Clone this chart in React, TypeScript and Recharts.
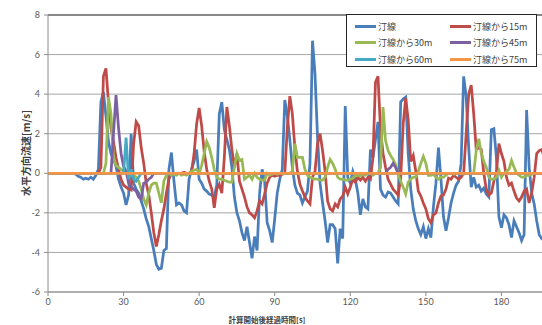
import { LineChart, Line, XAxis, YAxis, CartesianGrid, Legend, ReferenceLine } from "recharts";

const NAMES = ["汀線", "汀線から15m", "汀線から30m", "汀線から45m", "汀線から60m", "汀線から75m"];
const COLORS = ["#4a7ebb", "#be4b48", "#98b954", "#7d60a0", "#46aac5", "#f69545"];
const X_TICKS = [0, 30, 60, 90, 120, 150, 180];
const Y_TICKS = [-6, -4, -2, 0, 2, 4, 6, 8];

// one value per second, t = 0 .. 197
const BLUE = [
  0, 0, 0, 0, 0, 0, 0, 0, 0, 0,
  0, -0.05, -0.15, -0.2, -0.3, -0.25, -0.3, -0.2, -0.3, -0.1,
  0.2, 3.6, 4.1, 2.9, 1.6, 1.0, 0.7, 0.35, -0.3, -0.7,
  -1.0, -1.6, -1.1, 2.0, -0.5, -0.8, -1.0, -1.4, -1.8, -2.3,
  -2.7, -3.3, -3.9, -4.6, -4.85, -4.8, -3.9, -3.8, 0.2, 1.05,
  -0.4, -1.6, -1.5, -1.6, -1.9, -2.0, -0.3, 0.2, 0.6, 1.2,
  -0.3, -0.5, -0.8, -0.9, -1.05, -1.1, -1.2, -0.6, 3.0, 3.6,
  2.2, 1.7, 1.2, 0.3, -1.2, -2.0, -2.4, -3.0, -3.4, -2.7,
  -3.5, -4.3, -3.2, -3.9, -1.0, 0.2, -0.4, -2.5, -2.9, -3.5,
  -2.3, -1.0, -0.3, 0.2, 3.7, 2.9, 1.7, 0.3, -0.6, -1.0,
  -1.1, -1.5, -1.2, -0.9, 0.5, 6.7, 5.0, 1.8, -0.5, -1.5,
  -2.4, -3.5, -2.6, -2.6, -2.8, -4.55, -2.8, -3.3, 3.4, -0.2,
  -0.5, 0.1, -0.3, -1.0, -2.1, -1.3, -1.7, -1.8, 1.2, 0.8,
  1.7, 2.6, -0.8, -1.1, -1.2, -0.95, -1.0, -1.2, -1.4, -1.55,
  3.6, 3.75, 3.85, 1.0, -0.8, -1.8, -2.4, -2.8, -3.1, -2.7,
  -3.3, -2.8, -3.25, -1.7, -0.5, 1.3, -0.3, -2.2, -2.9, -2.25,
  -1.5, -1.0, -0.6, -0.4, 0.5, 4.9, 3.9, 1.3, -0.7, -0.2,
  -0.7, -0.6, -0.9, -0.75, -1.05, -1.2, 2.2, 2.25, 0.8, -2.2,
  -2.75, -2.1, -2.25, -2.6, -3.25, -2.4, -2.7, -3.0, -3.4, -3.1,
  3.2, 0.3, -1.0, -1.55, -2.4, -3.1, -3.3, -3.2,
];

const RED = [
  0, 0, 0, 0, 0, 0, 0, 0, 0, 0,
  0, 0, 0, 0, 0, 0, 0, 0, 0, 0,
  0, 0.3, 4.9, 5.3, 3.6, 2.3, 1.6, 0.8, 0.2, -0.3,
  -0.6, -0.7, -0.8, -0.85, 1.5, 2.6, 2.4, 1.3, 0.5, -0.5,
  -1.1, -2.0, -3.0, -3.7, -3.1, -2.4, -1.8, -1.0, -0.3, 0,
  0, -0.05, 0, 0, 0.05, 0, 0, 0.1, 1.0, 2.5,
  3.3, 2.4, 1.1, 0.2, -0.4, -0.8, -1.75, -0.8, -0.55, -1.0,
  0.8, 3.35, 2.4, 1.2, 0.3, 1.0, -0.4, -0.8, -1.2, -1.7,
  -2.0, -2.1, -2.25, -1.9, -1.4, -1.55, -1.05, -0.5, -0.2, -0.1,
  -0.15, -0.1, -0.1, -0.05, 0, 2.3, 3.9, 3.0, 1.3, 0.1,
  -0.55, -0.9, -1.2, -1.4, -1.55, -0.2, 0.1, 1.5, 2.0, 1.15,
  0.1, -1.4, -1.8, -1.9, -1.55, -1.7, -1.3, -1.15, -0.7, -1.05,
  -0.7, -0.3, -0.45, -0.2, -0.35, -0.2, -0.4, -0.2, -0.3, 0.8,
  4.6, 4.9, 2.2, 1.0, 0.3, -0.3, -0.55, -0.8, -0.95, -1.1,
  -0.3, 2.5, 3.8, 2.7, 0.6, 0.9, 0.1, -0.9, -1.15, -1.5,
  -1.8, -2.3, -2.5, -2.1, -2.0, -1.5, -1.15, -1.1, -0.8, -0.25,
  -0.3, -0.1, -0.2, -0.3, -0.2, 0, 2.0, 4.0, 4.45, 3.0,
  1.2, 1.3, 1.2, 0, -0.8, -1.1, -1.0, -0.4, 0, 1.5,
  1.0, 0.6, -0.2, -0.6, -0.5, -0.9, -1.25, -1.4, -1.2, -0.9,
  -0.8, -1.5, -1.0, -0.2, 1.0, 1.15, 1.2, 0.8,
];

const GREEN = [
  0, 0, 0, 0, 0, 0, 0, 0, 0, 0,
  0, 0, 0, 0, 0, 0, 0, 0, 0, 0,
  0, 0, 0, 0.5, 3.85, 3.0, 0.8, 0.4, 0.3, 0.2,
  0.1, 0, 0, -0.1, -0.1, -0.2, -0.4, -0.8, -1.3, -1.6,
  -1.0, -0.6, -0.5, -0.5, -1.0, -1.5, -0.4, -0.1, 0, -0.1,
  -0.05, -0.1, 0, -0.1, -0.05, -0.1, 0, 0.1, 0.15, 0.2,
  0, 0.4, 1.0, 1.6, 1.3, 0.8, 0.2, -0.2, -0.3, -0.3,
  -0.35, -0.4, -0.45, -0.45, 0.3, 1.0, 0.65, 0.7, -0.3, -0.2,
  -0.1, -0.3, 0, -0.2, -0.3, -0.35, -0.35, 0, -0.1, -0.05,
  0, -0.05, 0, 0, 0, 0, 0, 0.1, 1.5, 0.8,
  0.8, 0.8, 0.2, -0.1, -0.2, -0.25, -0.3, -0.3, -0.35, -0.35,
  -0.2, 0.3, 0.7, 0.5, 0.2, -0.2, -0.3, -0.3, -0.35, -0.35,
  -0.3, -0.25, -0.1, -0.1, -0.15, -0.05, -0.1, 0, 0, -0.1,
  0, 0, 0.3, 3.35, 1.65, 1.15, 0.9, 0.7, 0.45, -0.05,
  -0.4, -0.7, -1.05, -0.45, -0.3, -0.2, -0.2, 0.1, 0.5, 0.85,
  0.5, -0.1, -0.1, -0.05, -0.2, -0.3, -0.2, -0.2, -0.1, 0,
  0, -0.05, 0, 0, 0, -0.05, 0, 0, 0, 0,
  1.15, 1.75, 1.0, 0.6, 0.3, -0.2, -0.3, -0.3, -0.2, 0.15,
  -0.2, 0, 0.1, 0.2, 0.65, 0.3, 0, -0.1, -0.2, -0.2,
  -0.1, -0.1, -0.05, 0, 0, 0, 0, 0,
];

const PURPLE = [
  0, 0, 0, 0, 0, 0, 0, 0, 0, 0,
  0, 0, 0, 0, 0, 0, 0, 0, 0, 0,
  0, 0, 0, 0, 0, 0, 2.0, 3.95, 2.3, 1.0,
  0.35, 0.1, -0.5, -0.7, -0.8, -0.9, -1.2, -1.3, -0.5, -0.45,
  -0.3, -0.2, 0, 0, 0, 0, 0, 0, 0, 0,
  0, 0, 0, 0, 0, 0, 0, 0, 0, 0,
  0, 0, 0, 0, 0, 0, 0, 0, 0, 0,
  0, 0, 0, 0, 0, 0, 0, 0, 0, 0,
  0, 0, 0, 0, 0, 0, 0, 0, 0, 0,
  0, 0, 0, 0, 0, 0, 0, 0, 0, 0,
  0, 0, 0, 0, 0, 0, 0, 0, 0, 0,
  0, 0, 0, 0, 0, 0, 0, 0, 0, 0,
  0, 0, 0, 0, 0, 0, 0, 0, 0, 0,
  0, 0, 0, 0, 0, 0.2, 0.3, 0.5, 0.3, 0,
  0, 0, 0, 0, 0, 0, 0, 0, 0, 0,
  0, 0, 0, 0, 0, 0, 0, 0, 0, 0,
  0, 0, 0, 0, 0, 0, 0, 0, 0, 0,
  0, 0, 0, 0, 0, 0, 0, 0, 0, 0,
  0, 0, 0, 0, 0, 0, 0, 0, 0, 0,
  0, 0, 0, 0, 0, 0, 0, 0,
];

const TEAL = [
  0, 0, 0, 0, 0, 0, 0, 0, 0, 0,
  0, 0, 0, 0, 0, 0, 0, 0, 0, 0,
  0, 0, 0, 0, 0, 0, 0, 0, 0, 0,
  0, 1.8, -0.3, 0.2, -0.3, -0.4, -0.2, 0, 0, 0,
  0, 0, 0, 0, 0, 0, 0, 0, 0, 0,
  0, 0, 0, 0, 0, 0, 0, 0, 0, 0,
  0, 0, 0, 0, 0, 0, 0, 0, 0, 0,
  0, 0, 0, 0, 0, 0, 0, 0, 0, 0,
  0, 0, 0, 0, 0, 0, 0, 0, 0, 0,
  0, 0, 0, 0, 0, 0, 0, 0, 0, 0,
  0, 0, 0, 0, 0, 0, 0, 0, 0, 0,
  0, 0, 0, 0, 0, 0, 0, 0, 0, 0,
  0, 0, 0, 0, 0, 0, 0, 0, 0, 0,
  0, 0, 0, 0, 0, 0, 0, 0, 0, 0,
  0, 0, 0, 0, 0, 0, 0, 0, 0, 0,
  0, 0, 0, 0, 0, 0, 0, 0, 0, 0,
  0, 0, 0, 0, 0, 0, 0, 0, 0, 0,
  0, 0, 0, 0, 0, 0, 0, 0, 0, 0,
  0, 0, 0, 0, 0, 0, 0, 0, 0, 0,
  0, 0, 0, 0, 0, 0, 0, 0,
];

const ORANGE = [
  0, 0, 0, 0, 0, 0, 0, 0, 0, 0,
  0, 0, 0, 0, 0, 0, 0, 0, 0, 0,
  0, 0, 0, 0, 0, 0, 0, 0, 0, 0,
  0, 0, 0, 0, 0, 0, 0, 0, 0, 0,
  0, 0, 0, 0, 0, 0, 0, 0, 0, 0,
  0, 0, 0, 0, 0, 0, 0, 0, 0, 0,
  0, 0, 0, 0, 0, 0, 0, 0, 0, 0,
  0, 0, 0, 0, 0, 0, 0, 0, 0, 0,
  0, 0, 0, 0, 0, 0, 0, 0, 0, 0,
  0, 0, 0, 0, 0, 0, 0, 0, 0, 0,
  0, 0, 0, 0, 0, 0, 0, 0, 0, 0,
  0, 0, 0, 0, 0, 0, 0, 0, 0, 0,
  0, 0, 0, 0, 0, 0, 0, 0, 0, 0,
  0, 0, 0, 0, 0, 0, 0, 0, 0, 0,
  0, 0, 0, 0, 0, 0, 0, 0, 0, 0,
  0, 0, 0, 0, 0, 0, 0, 0, 0, 0,
  0, 0, 0, 0, 0, 0, 0, 0, 0, 0,
  0, 0, 0, 0, 0, 0, 0, 0, 0, 0,
  0, 0, 0, 0, 0, 0, 0, 0, 0, 0,
  0, 0, 0, 0, 0, 0, 0, 0,
];

const SERIES = [BLUE, RED, GREEN, PURPLE, TEAL, ORANGE];

const rows = BLUE.map((_, i) => {
  const row: Record<string, number> = { t: i };
  SERIES.forEach((s, k) => {
    row["s" + k] = s[i];
  });
  return row;
});

const CJK = "'Noto Sans CJK JP', 'Noto Sans', sans-serif";
const tickStyle = { fontSize: 9, fill: "#595959", fontFamily: "Lato, 'Noto Sans', sans-serif" };

function LegendBox() {
  return (
    <div
      style={{
        position: "relative",
        width: 191,
        height: 53,
        boxSizing: "border-box",
        border: "1px solid #262626",
        background: "#fff",
        fontFamily: CJK,
        fontSize: 9,
        color: "#404040",
      }}
    >
      {NAMES.map((name, i) => (
        <div
          key={name}
          style={{
            position: "absolute",
            left: i % 2 ? 103 : 8,
            top: 4 + Math.floor(i / 2) * 16.5,
            height: 14,
            display: "flex",
            alignItems: "center",
            whiteSpace: "nowrap",
          }}
        >
          <span style={{ display: "inline-block", width: 21, height: 3, background: COLORS[i], marginRight: 2 }} />
          {name}
        </div>
      ))}
    </div>
  );
}

export default function App() {
  return (
    <div style={{ position: "absolute", left: 0, top: 0, width: 542, height: 325, overflow: "hidden", background: "#fff" }}>
      <LineChart width={577} height={325} data={rows} margin={{ top: 15, right: 0, bottom: 0, left: 0 }}>
        <CartesianGrid vertical={false} stroke="#a6a6a6" />
        <XAxis
          dataKey="t"
          type="number"
          domain={[0, 210]}
          ticks={X_TICKS}
          interval={0}
          height={33}
          tickSize={4}
          tickMargin={3}
          stroke="#8c8c8c"
          tick={tickStyle}
          label={{
            content: () => (
              <text x={267} y={323} textAnchor="middle" fontSize={7.5} fontWeight="bold" fill="#404040" fontFamily={CJK}>
                計算開始後経過時間[s]
              </text>
            ),
          }}
        />
        <YAxis
          type="number"
          domain={[-6, 8]}
          ticks={Y_TICKS}
          width={48}
          tickSize={4}
          tickMargin={4}
          stroke="#8c8c8c"
          tick={tickStyle}
          label={{
            content: () => (
              <text
                x={25}
                y={153}
                transform="rotate(-90 25 153)"
                textAnchor="middle"
                dominantBaseline="central"
                fontSize={10}
                fontWeight="bold"
                fill="#404040"
                fontFamily={CJK}
              >
                水平方向流速[m/s]
              </text>
            ),
          }}
        />
        <ReferenceLine y={8} stroke="#404040" strokeWidth={1.2} />
        {NAMES.map((name, k) => (
          <Line
            key={name}
            type="linear"
            dataKey={"s" + k}
            name={name}
            stroke={COLORS[k]}
            strokeWidth={2.75}
            dot={false}
            isAnimationActive={false}
          />
        ))}
        <Legend
          layout="vertical"
          align="center"
          verticalAlign="middle"
          content={() => <LegendBox />}
          wrapperStyle={{ left: 346, top: 14, width: 191, height: 53 }}
        />
      </LineChart>
    </div>
  );
}
